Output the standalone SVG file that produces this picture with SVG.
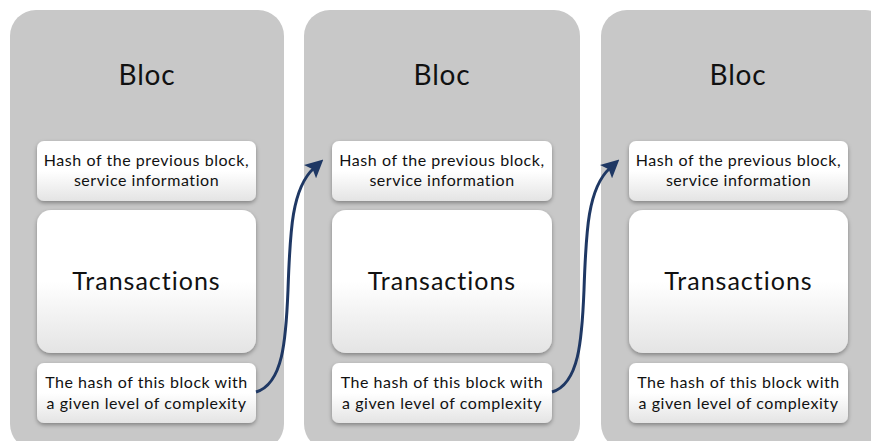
<svg xmlns="http://www.w3.org/2000/svg" width="871" height="441" viewBox="0 0 871 441">
  <defs>
    <linearGradient id="boxFill" x1="0" y1="0" x2="0" y2="1">
      <stop offset="0" stop-color="#ffffff"/>
      <stop offset="0.5" stop-color="#ffffff"/>
      <stop offset="1" stop-color="#e4e4e4"/>
    </linearGradient>
    <filter id="shadow" x="-10%" y="-10%" width="120%" height="130%">
      <feDropShadow dx="0" dy="2" stdDeviation="2" flood-color="#000" flood-opacity="0.35"/>
    </filter>
    <marker id="arrow" viewBox="0 0 10 10" refX="3" refY="5" markerWidth="6" markerHeight="6" orient="auto" markerUnits="strokeWidth">
      <path d="M0,0 L10,5 L0,10 L2,5 Z" fill="#1f3864"/>
    </marker>
  </defs>
  <style>
    .panel { fill: #c8c8c8; }
    .box { fill: url(#boxFill); filter: url(#shadow); }
    text { font-family: Lato, "Liberation Sans", sans-serif; fill: #111; text-anchor: middle; }
    .title { font-size: 28px; letter-spacing: 0.8px; }
    .big { font-size: 25px; letter-spacing: 1px; }
    .small { font-size: 16px; letter-spacing: 0.55px; }
    .link { fill: none; stroke: #1f3864; stroke-width: 3; marker-end: url(#arrow); }
  </style>

  <rect width="871" height="441" fill="#ffffff"/>

  <!-- block 1 -->
  <g id="block1">
    <rect class="panel" x="10" y="10" width="274" height="440" rx="26"/>
    <text class="title" x="147" y="85">Bloc</text>
    <g id="block1-header">
      <rect class="box" x="37" y="141" width="219" height="60" rx="7"/>
      <text class="small" x="146.5" y="166">Hash of the previous block,</text>
      <text class="small" x="146.5" y="186">service information</text>
    </g>
    <g id="block1-tx">
      <rect class="box" x="37" y="210" width="219" height="143" rx="14"/>
      <text class="big" x="146.5" y="290">Transactions</text>
    </g>
    <g id="block1-hash">
      <rect class="box" x="37" y="363" width="219" height="60" rx="7"/>
      <text class="small" x="146.5" y="388">The hash of this block with</text>
      <text class="small" x="146.5" y="409">a given level of complexity</text>
    </g>
  </g>

  <!-- block 2 -->
  <g id="block2">
    <rect class="panel" x="304" y="10" width="276" height="440" rx="26"/>
    <text class="title" x="442" y="85">Bloc</text>
    <g id="block2-header">
      <rect class="box" x="332" y="141" width="220" height="60" rx="7"/>
      <text class="small" x="442" y="166">Hash of the previous block,</text>
      <text class="small" x="442" y="186">service information</text>
    </g>
    <g id="block2-tx">
      <rect class="box" x="332" y="210" width="220" height="143" rx="14"/>
      <text class="big" x="442" y="290">Transactions</text>
    </g>
    <g id="block2-hash">
      <rect class="box" x="332" y="363" width="220" height="60" rx="7"/>
      <text class="small" x="442" y="388">The hash of this block with</text>
      <text class="small" x="442" y="409">a given level of complexity</text>
    </g>
  </g>

  <!-- block 3 -->
  <g id="block3">
    <rect class="panel" x="601" y="10" width="290" height="440" rx="26"/>
    <text class="title" x="738" y="85">Bloc</text>
    <g id="block3-header">
      <rect class="box" x="629" y="141" width="219" height="60" rx="7"/>
      <text class="small" x="738.5" y="166">Hash of the previous block,</text>
      <text class="small" x="738.5" y="186">service information</text>
    </g>
    <g id="block3-tx">
      <rect class="box" x="629" y="210" width="219" height="143" rx="14"/>
      <text class="big" x="738.5" y="290">Transactions</text>
    </g>
    <g id="block3-hash">
      <rect class="box" x="629" y="363" width="219" height="60" rx="7"/>
      <text class="small" x="738.5" y="388">The hash of this block with</text>
      <text class="small" x="738.5" y="409">a given level of complexity</text>
    </g>
  </g>

  <!-- chain links: block hash to next block header -->
  <g id="connectors">
    <path class="link" d="M256,392 C283,384 286,340 288,290 C290,230 292,188 314,168"/>
    <path class="link" d="M552,392 C579,384 582,340 584,290 C586,230 588,188 610,168"/>
  </g>
</svg>
